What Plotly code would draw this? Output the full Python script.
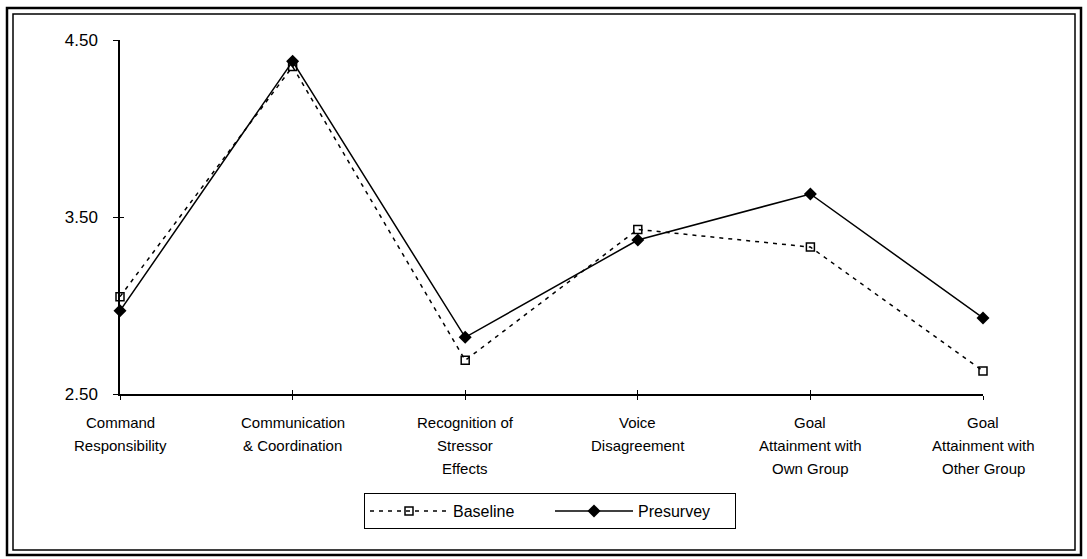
import plotly.graph_objects as go

# Survey scale means per dimension
categories = [
    "Command Responsibility",
    "Communication & Coordination",
    "Recognition of Stressor Effects",
    "Voice Disagreement",
    "Goal Attainment with Own Group",
    "Goal Attainment with Other Group",
]
category_lines = [
    ["Command", "Responsibility"],
    ["Communication", "& Coordination"],
    ["Recognition of", "Stressor", "Effects"],
    ["Voice", "Disagreement"],
    ["Goal", "Attainment with", "Own Group"],
    ["Goal", "Attainment with", "Other Group"],
]
baseline = [3.05, 4.35, 2.69, 3.43, 3.33, 2.63]
presurvey = [2.97, 4.38, 2.82, 3.37, 3.63, 2.93]
y_ticks = [2.5, 3.5, 4.5]
y_tick_labels = ["2.50", "3.50", "4.50"]

W, H = 1087, 559
ML, MR, MT, MB = 120, 104, 40, 165
PW, PH = W - ML - MR, H - MT - MB
FONT = "Arial, Liberation Sans, sans-serif"

x_idx = list(range(len(categories)))

fig = go.Figure()
fig.add_trace(go.Scatter(
    x=x_idx, y=baseline, name="Baseline", mode="lines+markers", cliponaxis=False,
    line=dict(color="black", width=1.5, dash="4px,5px"),
    marker=dict(symbol="square-open", size=8, color="black", line=dict(width=1.5)),
))
fig.add_trace(go.Scatter(
    x=x_idx, y=presurvey, name="Presurvey", mode="lines+markers", cliponaxis=False,
    line=dict(color="black", width=1.5),
    marker=dict(symbol="diamond", size=10, color="black"),
))

# second pair of axes supplies the inner half of the crossing tick marks
fig.add_trace(go.Scatter(x=[None], y=[None], xaxis="x2", yaxis="y2",
                         showlegend=False, hoverinfo="skip"))

fig.update_layout(
    width=W, height=H,
    margin=dict(l=ML, r=MR, t=MT, b=MB),
    paper_bgcolor="white", plot_bgcolor="white",
    font=dict(family=FONT, size=16, color="black"),
    xaxis=dict(range=[0, 5], tickvals=x_idx, showticklabels=False,
               showgrid=False, zeroline=False, showline=True, linecolor="black",
               linewidth=1.5, ticks="outside", ticklen=4, tickcolor="black"),
    yaxis=dict(range=[2.5, 4.5], tickvals=y_ticks, ticktext=y_tick_labels,
               showgrid=False, zeroline=False, showline=True, linecolor="black",
               linewidth=1.5, ticks="outside", ticklen=5, tickcolor="black",
               ticklabelstandoff=12, tickfont=dict(size=17)),
    xaxis2=dict(range=[0, 5], tickvals=x_idx, overlaying="x", showticklabels=False,
                showgrid=False, zeroline=False, showline=False,
                ticks="inside", ticklen=4, tickcolor="black"),
    yaxis2=dict(range=[2.5, 4.5], tickvals=y_ticks, overlaying="y", showticklabels=False,
                showgrid=False, zeroline=False, showline=False,
                ticks="inside", ticklen=4, tickcolor="black"),
    legend=dict(orientation="h", x=(550 - ML) / PW, xanchor="center",
                y=(MT + PH - 493) / PH, yanchor="top",
                bordercolor="black", borderwidth=1, bgcolor="white",
                font=dict(size=16), itemwidth=78, entrywidth=92,
                traceorder="normal"),
    showlegend=True,
)

# multi-line category labels under each tick
for i, lines in enumerate(category_lines):
    for j, line in enumerate(lines):
        fig.add_annotation(x=i, xref="x", y=0, yref="paper", text=line,
                           showarrow=False, xanchor="center", yanchor="middle",
                           yshift=-28 - 23 * j, font=dict(size=15))


def px_x(p):
    return (p - ML) / PW


def px_y(p):
    return (MT + PH - p) / PH


# double frame around the whole chart
for (x0, y0, x1, y1), w in [((7, 8, 1081, 555), 2.5), ((13, 14, 1075, 550), 1.5)]:
    fig.add_shape(type="rect", xref="paper", yref="paper",
                  x0=px_x(x0), x1=px_x(x1), y0=px_y(y1), y1=px_y(y0),
                  line=dict(color="black", width=w), fillcolor="rgba(0,0,0,0)",
                  layer="above")

fig.write_html("out.html")
